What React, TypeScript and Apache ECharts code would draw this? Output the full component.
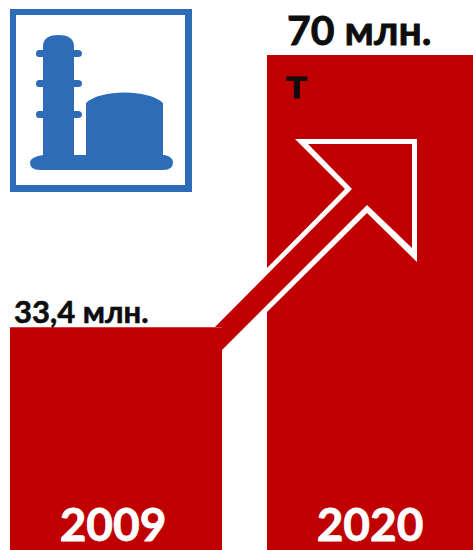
import React, { useEffect, useRef } from "react";
import * as echarts from "echarts";

const categories = ["2009", "2020"];
// Bar heights as drawn in the picture (the graphic is not strictly to scale with its labels).
const barHeights = [31.5, 70];
const valueLabels = ["33,4 млн.", "70 млн.", "т"];

const RED = "#C00000";
const BLUE = "#2E6CB8";
const FONT = "Lato, 'Open Sans'";
const INK = "#0d0d0d";

const ICON_D =
  "M43 46 C43 38 50 35 58.5 35 C67 35 74 38 74 46 L74 50 L78 50 Q82 50 82 53.5 Q82 57 78 57 L74 57 L74 80 L78 80 Q82 80 82 83.5 Q82 87 78 87 L74 87 L74 111 L78 111 Q82 111 82 114.5 Q82 118 78 118 L74 118 L74 155 L86 155 L86 103 C100 89 149 89 163 103 L163 155 L165 155 Q173 157 173 162.5 Q173 170 163 170 L40 170 Q30 170 30 162.5 Q30 157 43 155 L43 118 L39 118 Q36 118 36 114.5 Q36 111 39 111 L43 111 L43 87 L39 87 Q36 87 36 83.5 Q36 80 39 80 L43 80 L43 57 L39 57 Q36 57 36 53.5 Q36 50 39 50 L43 50 Z";

echarts.graphic.registerShape("plantIcon", echarts.graphic.extendPath(ICON_D, {}) as any);

const yearLabel = {
  show: true,
  position: "insideBottom" as const,
  distance: 4,
  formatter: "{b}",
  color: "#ffffff",
  textBorderColor: "#ffffff",
  textBorderWidth: 0.8,
  fontFamily: FONT,
  fontWeight: "bold" as const,
  fontSize: 46,
};

export default function App() {
  const ref = useRef<HTMLDivElement>(null);
  useEffect(() => {
    document.body.style.margin = "0";
    const chart = echarts.init(ref.current!, undefined, { renderer: "svg" });
    const mkY = (gridIndex: number) => ({
      type: "value" as const,
      gridIndex,
      min: 0,
      max: 70,
      show: false,
    });
    const mkX = (gridIndex: number, cat: string) => ({
      type: "category" as const,
      gridIndex,
      data: [cat],
      show: false,
    });
    chart.setOption({
      animation: false,
      backgroundColor: "#ffffff",
      grid: [
        { left: 10, width: 212, top: 55, bottom: 0 },
        { left: 267, width: 206, top: 55, bottom: 0 },
      ],
      xAxis: [mkX(0, categories[0]), mkX(1, categories[1])],
      yAxis: [mkY(0), mkY(1)],
      series: [
        {
          type: "bar",
          xAxisIndex: 0,
          yAxisIndex: 0,
          barWidth: "100%",
          data: [barHeights[0]],
          itemStyle: { color: RED },
          label: { ...yearLabel, offset: [-3, 0] },
        },
        {
          type: "bar",
          xAxisIndex: 1,
          yAxisIndex: 1,
          barWidth: "100%",
          data: [barHeights[1]],
          itemStyle: { color: RED },
          label: yearLabel,
        },
      ],
      graphic: [
        { type: "rect", z: 10, shape: { x: 10, y: 9, width: 182, height: 183 }, style: { fill: BLUE } },
        { type: "rect", z: 11, shape: { x: 16, y: 15, width: 169, height: 170 }, style: { fill: "#ffffff" } },
        { type: "plantIcon", z: 12, x: 0, y: 0, style: { fill: BLUE } },
        {
          type: "polygon",
          z: 20,
          shape: {
            points: [
              [295, 139],
              [417, 139],
              [417, 262],
              [367, 213],
              [267, 312],
              [267, 268],
              [345, 189],
            ],
          },
          style: { fill: "#ffffff" },
        },
        {
          type: "polygon",
          z: 21,
          shape: {
            points: [
              [308, 144],
              [412, 144],
              [412, 248],
              [367, 205],
              [222, 350],
              [222, 327],
              [215, 327],
              [352, 189],
            ],
          },
          style: { fill: RED },
        },
        {
          type: "text",
          z: 30,
          style: {
            x: 14,
            y: 311,
            text: valueLabels[0],
            fill: INK,
            stroke: INK,
            lineWidth: 0.6,
            font: `bold 31px ${FONT}`,
            textVerticalAlign: "middle",
          },
        },
        {
          type: "text",
          z: 30,
          style: {
            x: 287,
            y: 29,
            text: valueLabels[1],
            fill: INK,
            stroke: INK,
            lineWidth: 0.8,
            font: `bold 41px ${FONT}`,
            textVerticalAlign: "middle",
          },
        },
        {
          type: "text",
          z: 30,
          style: {
            x: 286,
            y: 82,
            text: valueLabels[2],
            fill: INK,
            stroke: INK,
            lineWidth: 0.8,
            font: `bold 41px ${FONT}`,
            textVerticalAlign: "middle",
          },
        },
      ],
    });
    return () => chart.dispose();
  }, []);
  return <div ref={ref} style={{ width: 473, height: 550 }} />;
}
